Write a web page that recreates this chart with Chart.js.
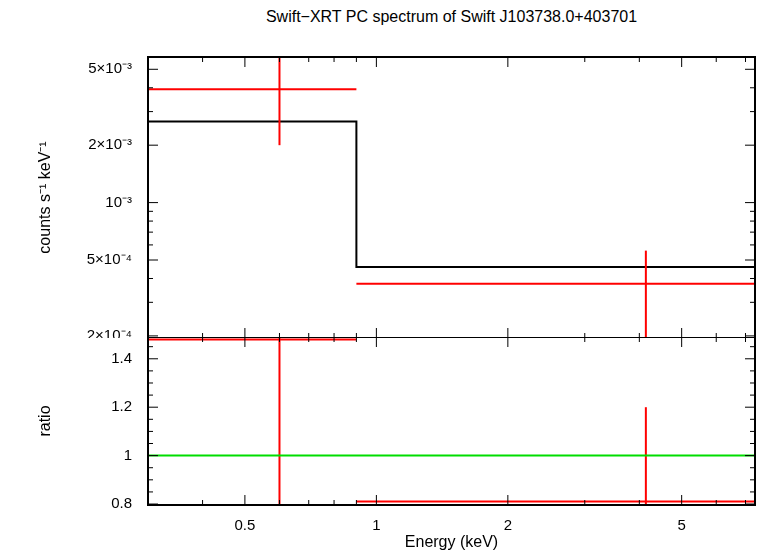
<!DOCTYPE html><html><head><meta charset="utf-8">
<script src="https://cdn.jsdelivr.net/npm/chart.js@4/dist/chart.umd.min.js"></script>
<style>body{margin:0;background:#fff;width:758px;height:556px;position:relative;overflow:hidden;font-family:"Liberation Sans",Arial,sans-serif}
canvas{position:absolute;left:0}
#t{position:absolute;top:8px;left:148px;width:607px;text-align:center;font-size:16px}</style></head><body>
<div id="t">Swift−XRT PC spectrum of Swift J103738.0+403701</div>
<div style="position:absolute;left:0;top:0;width:758px;height:338px"><canvas id="c1"></canvas></div>
<div style="position:absolute;left:0;top:337px;width:758px;height:219px"><canvas id="c2"></canvas></div>
<script>
const binLo=[0.3,0.9], binHi=[0.9,7.36], binCenter=[0.6,4.14];
const rate=[3.93e-3,3.75e-4], rateLo=[2.0e-3,1.9e-4], rateHi=[6.0e-3,5.6e-4];
const model=[2.66e-3,4.6e-4];
const ratio=[1.48,0.81], ratioLo=[0.79,0.79], ratioHi=[1.5,1.2];
const xTicks=[0.5,1,2,5], xMinor=[0.3,0.4,0.6,0.7,0.8,0.9,3,4,6,7];
const yTopTicks=[2e-4,5e-4,1e-3,2e-3,5e-3], yTopLabels=["2×10⁻⁴","5×10⁻⁴","10⁻³","2×10⁻³","5×10⁻³"];
const yTopMinor=[3e-4,4e-4,6e-4,7e-4,8e-4,9e-4,3e-3,4e-3];
const yBotTicks=[0.8,1,1.2,1.4], yBotMinor=[0.85,0.9,0.95,1.05,1.1,1.15,1.25,1.3,1.35,1.45];
const X0=0.3,X1=7.36;
const font={family:"Liberation Sans",size:15};
function tickPlugin(xMaj,xMin,yMaj,yMin){return{id:'tk',afterDraw(c){const g=c.ctx,a=c.chartArea,xs=c.scales.x,ys=c.scales.y;g.save();g.strokeStyle='#000';g.lineWidth=1;
const L=(x1,y1,x2,y2)=>{g.beginPath();g.moveTo(x1,y1);g.lineTo(x2,y2);g.stroke();};
xMaj.forEach(v=>{const p=xs.getPixelForValue(v);L(p,a.bottom,p,a.bottom-10);L(p,a.top,p,a.top+10);});
xMin.forEach(v=>{const p=xs.getPixelForValue(v);L(p,a.bottom,p,a.bottom-5);L(p,a.top,p,a.top+5);});
yMaj.forEach(v=>{const p=ys.getPixelForValue(v);L(a.left,p,a.left+10,p);L(a.right,p,a.right-10,p);});
yMin.forEach(v=>{const p=ys.getPixelForValue(v);L(a.left,p,a.left+5,p);L(a.right,p,a.right-5,p);});
g.lineWidth=2;g.strokeRect(a.left,a.top,a.right-a.left,a.bottom-a.top);g.restore();}};}
const lineDs=(data,color)=>({type:'line',data,borderColor:color,borderWidth:2,pointRadius:0,parsing:false});
const noPad=s=>{s.paddingTop=0;s.paddingBottom=0;};
// top
const topDs=[];
for(let i=0;i<2;i++){topDs.push(lineDs([{x:binLo[i],y:rate[i]},{x:binHi[i],y:rate[i]}],'#f00'),lineDs([{x:binCenter[i],y:rateLo[i]},{x:binCenter[i],y:rateHi[i]}],'#f00'));}
topDs.push(lineDs([{x:binLo[0],y:model[0]},{x:binHi[0],y:model[0]},{x:binLo[1],y:model[1]},{x:binHi[1],y:model[1]}],'#000'));
new Chart(document.getElementById('c1'),{type:'line',data:{datasets:topDs},
options:{responsive:true,maintainAspectRatio:false,animation:false,layout:{padding:{top:57,right:3,bottom:0,left:32}},
plugins:{legend:{display:false},tooltip:{enabled:false}},
scales:{x:{type:'logarithmic',min:X0,max:X1,display:false},
y:{type:'logarithmic',min:1.95e-4,max:5.8e-3,afterBuildTicks:s=>{s.ticks=yTopTicks.map(v=>({value:v}));},afterFit:s=>{s.width=116;noPad(s);},
grid:{display:false},border:{display:false},ticks:{color:'#000',font,padding:8,callback:(v)=>yTopLabels[yTopTicks.indexOf(v)]||''},
title:{display:true,text:'counts s⁻¹ keV⁻¹',color:'#000',font:{family:"Liberation Sans",size:16}}}}},
plugins:[tickPlugin(xTicks,xMinor,yTopTicks,yTopMinor)]});
// bottom
const botDs=[lineDs([{x:X0,y:1},{x:X1,y:1}],'#0d0')];
for(let i=0;i<2;i++){botDs.push(lineDs([{x:binLo[i],y:ratio[i]},{x:binHi[i],y:ratio[i]}],'#f00'),lineDs([{x:binCenter[i],y:ratioLo[i]},{x:binCenter[i],y:ratioHi[i]}],'#f00'));}
new Chart(document.getElementById('c2'),{type:'line',data:{datasets:botDs},
options:{responsive:true,maintainAspectRatio:false,animation:false,layout:{padding:{top:0,right:3,bottom:0,left:32}},
plugins:{legend:{display:false},tooltip:{enabled:false}},
scales:{x:{type:'logarithmic',min:X0,max:X1,afterBuildTicks:s=>{s.ticks=xTicks.map(v=>({value:v}));},afterFit:s=>{s.height=51;s.paddingLeft=0;s.paddingRight=0;},
grid:{display:false},border:{display:false},ticks:{color:'#000',font,maxRotation:0,padding:4,callback:v=>String(v)},
title:{display:true,text:'Energy (keV)',color:'#000',font:{family:"Liberation Sans",size:16},padding:{top:0}}},
y:{min:0.796,max:1.49,afterBuildTicks:s=>{s.ticks=yBotTicks.map(v=>({value:v}));},afterFit:s=>{s.width=116;noPad(s);},
grid:{display:false},border:{display:false},ticks:{color:'#000',font,padding:8,callback:v=>String(v)},
title:{display:true,text:'ratio',color:'#000',font:{family:"Liberation Sans",size:16}}}}},
plugins:[tickPlugin(xTicks,xMinor,yBotTicks,yBotMinor)]});
</script></body></html>
